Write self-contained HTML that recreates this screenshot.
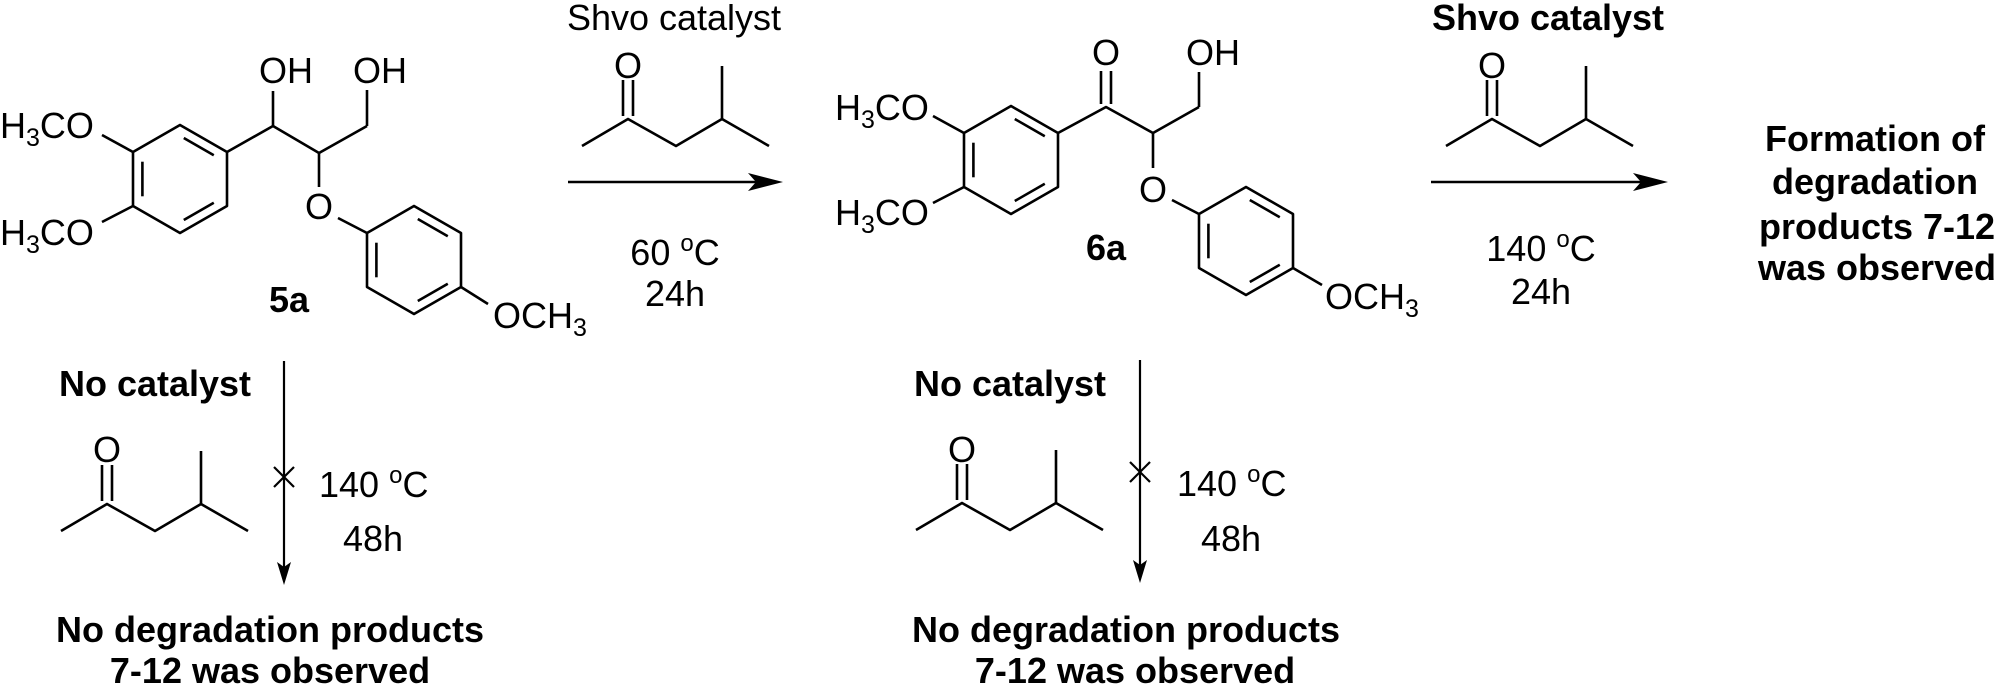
<!DOCTYPE html>
<html><head><meta charset="utf-8"><style>
html,body{margin:0;padding:0;background:#fff;}
svg{display:block;}
text{font-family:"Liberation Sans",Arial,sans-serif;fill:#000;}
.r{font-size:36px;}
.b{font-size:36px;font-weight:bold;}
</style></head><body>
<svg width="2001" height="687" viewBox="0 0 2001 687" xmlns="http://www.w3.org/2000/svg">
<defs>
<g id="ring" fill="none" stroke="#000" stroke-width="2.6" stroke-linejoin="round">
<polygon points="0,-54 47,-27 47,27 0,54 -47,27 -47,-27"/>
<line x1="-37.6" y1="-17.3" x2="-37.6" y2="17.3"/>
<line x1="3.8" y1="-41" x2="33.8" y2="-23.8"/>
<line x1="33.8" y1="23.8" x2="3.8" y2="41"/>
</g>
<g id="ket" fill="none" stroke="#000" stroke-width="2.6" stroke-linejoin="round">
<polyline points="-46,27 0,0 48,27 94,0 141,27"/>
<line x1="94" y1="0" x2="94" y2="-53"/>
<line x1="-5" y1="-3" x2="-5" y2="-39"/>
<line x1="5" y1="-3" x2="5" y2="-39"/>
</g>
</defs>

<!-- 5a -->
<use href="#ring" transform="translate(180,179)"/>
<use href="#ring" transform="translate(414,260)"/>
<g fill="none" stroke="#000" stroke-width="2.6" stroke-linejoin="round">
<line x1="133" y1="152" x2="102" y2="135"/>
<line x1="133" y1="206" x2="102" y2="222"/>
<polyline points="227,152 273,126 319,153 367,126"/>
<line x1="273" y1="126" x2="273" y2="91"/>
<line x1="367" y1="126" x2="367" y2="90"/>
<line x1="319" y1="153" x2="319" y2="187"/>
<line x1="338" y1="218" x2="367" y2="233"/>
<line x1="461" y1="287" x2="488" y2="304"/>
</g>
<text class="r" x="0" y="138">H<tspan font-size="25" dy="8">3</tspan><tspan dy="-8">CO</tspan></text>
<text class="r" x="0" y="245">H<tspan font-size="25" dy="8">3</tspan><tspan dy="-8">CO</tspan></text>
<text class="r" x="259" y="83">OH</text>
<text class="r" x="353" y="83">OH</text>
<text class="r" x="319" y="219" text-anchor="middle">O</text>
<text class="r" x="493" y="328">OCH<tspan font-size="25" dy="8">3</tspan></text>
<text class="b" x="289" y="312" text-anchor="middle">5a</text>

<!-- arrow 1 -->
<text class="r" x="674" y="30" text-anchor="middle">Shvo catalyst</text>
<use href="#ket" transform="translate(628,119)"/>
<text class="r" x="628" y="78" text-anchor="middle">O</text>
<line x1="568" y1="182" x2="760" y2="182" stroke="#000" stroke-width="2.6"/>
<polygon points="783,182 748,173 756,182 748,191" fill="#000"/>
<text class="r" x="675" y="265" text-anchor="middle">60 <tspan font-size="24" dy="-14">o</tspan><tspan dy="14">C</tspan></text>
<text class="r" x="675" y="306" text-anchor="middle">24h</text>

<!-- 6a -->
<use href="#ring" transform="translate(1011,160)"/>
<use href="#ring" transform="translate(1246,241)"/>
<g fill="none" stroke="#000" stroke-width="2.6" stroke-linejoin="round">
<line x1="964" y1="133" x2="933" y2="116"/>
<line x1="964" y1="187" x2="933" y2="203"/>
<polyline points="1058,133 1106,107 1153,133 1199,107"/>
<line x1="1199" y1="107" x2="1199" y2="72"/>
<line x1="1101" y1="104" x2="1101" y2="71"/>
<line x1="1111" y1="104" x2="1111" y2="71"/>
<line x1="1153" y1="133" x2="1153" y2="168"/>
<line x1="1172" y1="200" x2="1199" y2="214"/>
<line x1="1293" y1="268" x2="1322" y2="285"/>
</g>
<text class="r" x="835" y="120">H<tspan font-size="25" dy="8">3</tspan><tspan dy="-8">CO</tspan></text>
<text class="r" x="835" y="225">H<tspan font-size="25" dy="8">3</tspan><tspan dy="-8">CO</tspan></text>
<text class="r" x="1106" y="65" text-anchor="middle">O</text>
<text class="r" x="1186" y="65">OH</text>
<text class="r" x="1153" y="202" text-anchor="middle">O</text>
<text class="r" x="1325" y="309">OCH<tspan font-size="25" dy="8">3</tspan></text>
<text class="b" x="1106" y="260" text-anchor="middle">6a</text>

<!-- arrow 2 -->
<text class="b" x="1548" y="30" text-anchor="middle">Shvo catalyst</text>
<use href="#ket" transform="translate(1492,119)"/>
<text class="r" x="1492" y="78" text-anchor="middle">O</text>
<line x1="1431" y1="182" x2="1645" y2="182" stroke="#000" stroke-width="2.6"/>
<polygon points="1668,182 1633,173 1641,182 1633,191" fill="#000"/>
<text class="r" x="1541" y="261" text-anchor="middle">140 <tspan font-size="24" dy="-14">o</tspan><tspan dy="14">C</tspan></text>
<text class="r" x="1541" y="304" text-anchor="middle">24h</text>
<text class="b" x="1875" y="151" text-anchor="middle">Formation of</text>
<text class="b" x="1875" y="194" text-anchor="middle">degradation</text>
<text class="b" x="1877" y="239" text-anchor="middle">products 7-12</text>
<text class="b" x="1877" y="280" text-anchor="middle">was observed</text>

<!-- bottom left -->
<text class="b" x="155" y="396" text-anchor="middle">No catalyst</text>
<use href="#ket" transform="translate(107,504)"/>
<text class="r" x="107" y="462" text-anchor="middle">O</text>
<line x1="284" y1="361" x2="284" y2="570" stroke="#000" stroke-width="2.2"/>
<polygon points="284,585 277,562 284,567 291,562" fill="#000"/>
<line x1="274" y1="467" x2="294" y2="487" stroke="#000" stroke-width="2.2"/>
<line x1="294" y1="467" x2="274" y2="487" stroke="#000" stroke-width="2.2"/>
<text class="r" x="319" y="497">140 <tspan font-size="24" dy="-14">o</tspan><tspan dy="14">C</tspan></text>
<text class="r" x="373" y="551" text-anchor="middle">48h</text>
<text class="b" x="270" y="642" text-anchor="middle">No degradation products</text>
<text class="b" x="270" y="683" text-anchor="middle">7-12 was observed</text>

<!-- bottom right -->
<text class="b" x="1010" y="396" text-anchor="middle">No catalyst</text>
<use href="#ket" transform="translate(962,503)"/>
<text class="r" x="962" y="462" text-anchor="middle">O</text>
<line x1="1140" y1="360" x2="1140" y2="568" stroke="#000" stroke-width="2.2"/>
<polygon points="1140,583 1133,560 1140,565 1147,560" fill="#000"/>
<line x1="1130" y1="462" x2="1150" y2="482" stroke="#000" stroke-width="2.2"/>
<line x1="1150" y1="462" x2="1130" y2="482" stroke="#000" stroke-width="2.2"/>
<text class="r" x="1177" y="496">140 <tspan font-size="24" dy="-14">o</tspan><tspan dy="14">C</tspan></text>
<text class="r" x="1231" y="551" text-anchor="middle">48h</text>
<text class="b" x="1126" y="642" text-anchor="middle">No degradation products</text>
<text class="b" x="1135" y="683" text-anchor="middle">7-12 was observed</text>
</svg>
</body></html>
